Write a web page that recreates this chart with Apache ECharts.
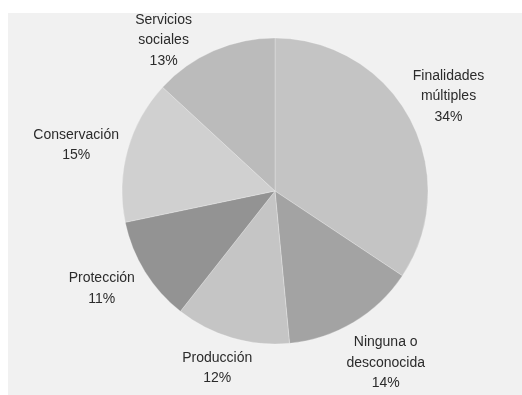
<!DOCTYPE html>
<html>
<head>
<meta charset="utf-8">
<script src="https://cdn.jsdelivr.net/npm/echarts@6/dist/echarts.min.js"></script>
<style>
  html, body { margin: 0; padding: 0; background: #ffffff; }
  #chart { width: 522px; height: 395px; }
</style>
</head>
<body>
<div id="chart"></div>
<script>
// Uses of the areas (share, %), clockwise from twelve o'clock
var categories = ['Finalidades\nmúltiples', 'Ninguna o\ndesconocida', 'Producción', 'Protección', 'Conservación', 'Servicios\nsociales'];
var shares = [34, 14, 12, 11, 15, 13];
var sliceColors = ['#c4c4c4', '#a3a3a3', '#c5c5c5', '#939393', '#d0d0d0', '#bbbbbb'];

// small nudges so the labels sit clear of the canvas edges
var labelNudges = [[-1, -1], [9, 2], [-2, -13], [-5, -7], [-8, 7], [-32, 31]];

var pieData = categories.map(function (name, i) {
  return { name: name, value: shares[i], itemStyle: { color: sliceColors[i] } };
});

var center = [275, 191];

var chart = echarts.init(document.getElementById('chart'), null, { renderer: 'canvas' });
chart.setOption({
  backgroundColor: '#ffffff',
  animation: false,
  graphic: [{
    type: 'rect',
    left: 8, top: 13,
    shape: { width: 514, height: 382 },
    style: { fill: '#f1f1f1' },
    z: -10
  }],
  series: [
    {
      // the pie itself
      type: 'pie',
      center: center,
      radius: 153,
      startAngle: 90,
      clockwise: true,
      silent: true,
      label: { show: false },
      labelLine: { show: false },
      itemStyle: { borderColor: 'rgba(255,255,255,0.35)', borderWidth: 0.7 },
      data: pieData
    },
    {
      // transparent ring that carries the category labels around the pie
      type: 'pie',
      center: center,
      radius: [185, 205],
      startAngle: 90,
      clockwise: true,
      silent: true,
      itemStyle: { color: 'transparent' },
      labelLine: { show: false },
      label: {
        show: true,
        position: 'inside',
        formatter: function (p) { return p.name + '\n' + p.value + '%'; },
        fontFamily: '"Liberation Sans", Arial, sans-serif',
        fontSize: 14,
        lineHeight: 20.5,
        color: '#2b2b2b',
        align: 'center'
      },
      labelLayout: function (params) {
        var n = labelNudges[params.dataIndex];
        return { dx: n[0], dy: n[1] };
      },
      data: pieData.map(function (d) { return { name: d.name, value: d.value }; })
    }
  ]
});
</script>
</body>
</html>
